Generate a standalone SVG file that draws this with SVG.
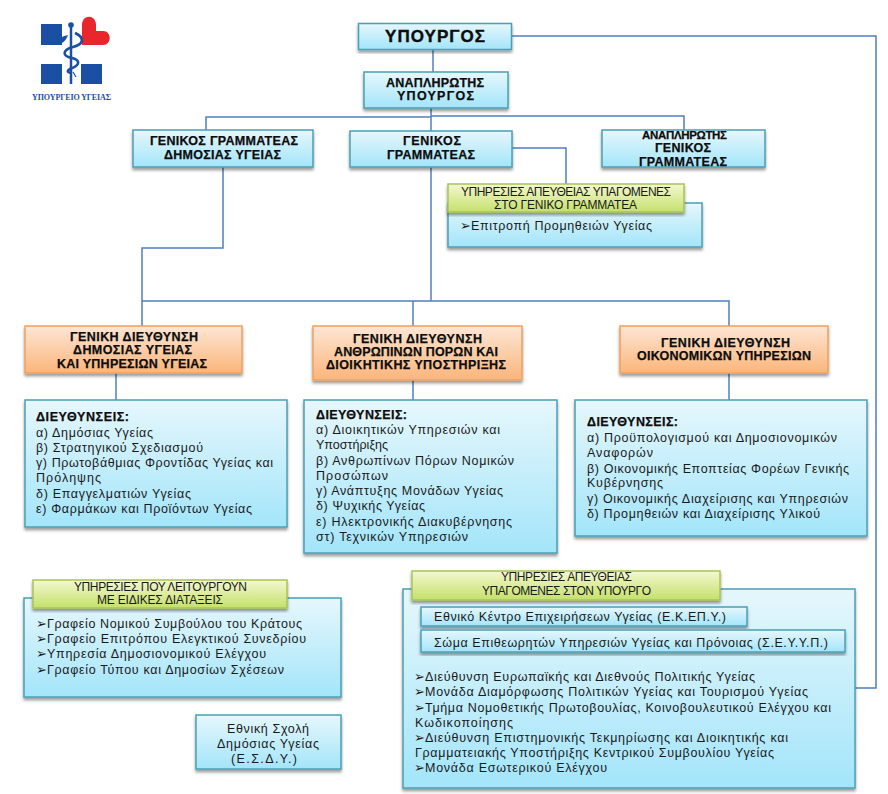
<svg xmlns="http://www.w3.org/2000/svg" width="888" height="794" viewBox="0 0 888 794">
<style>
text{font-family:"Liberation Sans","DejaVu Sans",sans-serif;fill:#1a1a1a;font-size:12.5px}
.b{font-weight:bold;font-size:12.5px;fill:#0d0d0d;stroke:#0d0d0d;stroke-width:.25}
.g{font-size:12px}
.bu{font-family:"DejaVu Sans",sans-serif;font-size:13px}
.blue{fill:url(#gb);stroke:#4aa0b5;stroke-width:1.5;filter:url(#sh)}
.or{fill:url(#go);stroke:#f0a060;stroke-width:1.5;filter:url(#sh)}
.gr{fill:url(#gg);stroke:#a9c454;stroke-width:1.5;filter:url(#sh)}
.c{fill:none;stroke:#4f7fc0;stroke-width:1.5}
</style>
<defs>
<linearGradient id="gb" x1="0" y1="0" x2="0" y2="1"><stop offset="0" stop-color="#e6f7fc"/><stop offset="1" stop-color="#a3e5fa"/></linearGradient>
<linearGradient id="go" x1="0" y1="0" x2="0" y2="1"><stop offset="0" stop-color="#fde6d5"/><stop offset="1" stop-color="#fbb57a"/></linearGradient>
<linearGradient id="gg" x1="0" y1="0" x2="0" y2="1"><stop offset="0" stop-color="#f3f8d0"/><stop offset="1" stop-color="#c5e06c"/></linearGradient>
<filter id="sh" x="-5%" y="-10%" width="110%" height="125%"><feDropShadow dx="0" dy="2.500" stdDeviation="1.500" flood-color="#000" flood-opacity="0.4"/></filter>
</defs>
<rect width="888" height="794" fill="#fff"/>
<g id="connectors">
<path class="c" d="M433 50V72"/>
<path class="c" d="M431 108V301"/>
<path class="c" d="M431 117H206V130"/>
<path class="c" d="M431 116H684V130"/>
<path class="c" d="M512 148H566V184"/>
<path class="c" d="M223 167V248H142V326"/>
<path class="c" d="M142 301H729V326"/>
<path class="c" d="M413 301V326"/>
<path class="c" d="M116 373V400"/>
<path class="c" d="M413 380V400"/>
<path class="c" d="M729 373V400"/>
<path class="c" d="M512 36H876V688H855"/>
</g>
<g id="logo">
<rect x="41" y="24" width="21" height="21" fill="#1a4fa3"/>
<rect x="41" y="64" width="21" height="20" fill="#1a4fa3"/>
<rect x="81" y="64" width="21" height="20" fill="#1a4fa3"/>
<path d="M82 45V25C82 14 96 14 96 25V31H103C112 31 112 45 103 45Z" fill="#e8262c"/>
<path d="M71 25V84" stroke="#1a4fa3" stroke-width="2.500" fill="none"/>
<circle cx="71" cy="25" r="2.800" fill="#1a4fa3"/>
<path d="M75 33C84 37 85 44 73 47C62 50 62 56 72 58C80 60 81 65 70 69C66 71 68 73 72 73" stroke="#1a4fa3" stroke-width="2.600" fill="none"/>
<path d="M58 44C58 38 63 36 68 35C66 41 62 44 58 44Z" fill="#1a4fa3"/>
<path d="M73 72L76 77" stroke="#1a4fa3" stroke-width="1.200"/>
<text x="32" y="100" textLength="79" style="font-family:'Liberation Serif',serif;font-size:8px;font-weight:bold;fill:#1a4fa3">ΥΠΟΥΡΓΕΙΟ ΥΓΕΙΑΣ</text>
</g>
<g id="minister"><rect class="blue" x="358.500" y="23.500" width="153" height="26"/><text class="b" x="385" y="42" textLength="100" style="font-size:17px;stroke-width:.4">ΥΠΟΥΡΓΟΣ</text></g>
<g id="deputy-minister"><rect class="blue" x="364" y="72" width="144" height="36"/><text class="b" x="386" y="87" textLength="98">ΑΝΑΠΛΗΡΩΤΗΣ</text><text class="b" x="397" y="100" textLength="77">ΥΠΟΥΡΓΟΣ</text></g>
<g id="sg-public-health"><rect class="blue" x="133" y="130" width="180" height="37"/><text class="b" x="150" y="145" textLength="148">ΓΕΝΙΚΟΣ ΓΡΑΜΜΑΤΕΑΣ</text><text class="b" x="164" y="159" textLength="117">ΔΗΜΟΣΙΑΣ ΥΓΕΙΑΣ</text></g>
<g id="sg"><rect class="blue" x="350" y="131" width="162" height="36"/><text class="b" x="403" y="145" textLength="58">ΓΕΝΙΚΟΣ</text><text class="b" x="387" y="159" textLength="88">ΓΡΑΜΜΑΤΕΑΣ</text></g>
<g id="deputy-sg"><rect class="blue" x="602" y="130" width="163" height="37"/><text class="b" x="642" y="139" textLength="85" style="font-size:11.5px">ΑΝΑΠΛΗΡΩΤΗΣ</text><text class="b" x="655" y="152" textLength="56">ΓΕΝΙΚΟΣ</text><text class="b" x="639" y="166" textLength="88">ΓΡΑΜΜΑΤΕΑΣ</text></g>
<g id="sg-services"><rect class="blue" x="448" y="203" width="254" height="44"/><rect class="gr" x="448" y="184" width="236" height="28"/><text class="g" x="461" y="196" textLength="210">ΥΠΗΡΕΣΙΕΣ ΑΠΕΥΘΕΙΑΣ ΥΠΑΓΟΜΕΝΕΣ</text><text class="g" x="494" y="209" textLength="143">ΣΤΟ ΓΕΝΙΚΟ ΓΡΑΜΜΑΤΕΑ</text><text x="460" y="230"><tspan class="bu">➢</tspan><tspan x="471" textLength="181">Επιτροπή Προμηθειών Υγείας</tspan></text></g>
<g id="gd-public-health"><rect class="or" x="25" y="326" width="217" height="47"/><text class="b" x="70" y="341" textLength="128">ΓΕΝΙΚΗ ΔΙΕΥΘΥΝΣΗ</text><text class="b" x="73" y="354" textLength="119">ΔΗΜΟΣΙΑΣ ΥΓΕΙΑΣ</text><text class="b" x="57" y="368" textLength="150">ΚΑΙ ΥΠΗΡΕΣΙΩΝ ΥΓΕΙΑΣ</text></g>
<g id="gd-hr"><rect class="or" x="313" y="326" width="209" height="54"/><text class="b" x="353" y="343" textLength="129">ΓΕΝΙΚΗ ΔΙΕΥΘΥΝΣΗ</text><text class="b" x="334" y="356" textLength="164">ΑΝΘΡΩΠΙΝΩΝ ΠΟΡΩΝ ΚΑΙ</text><text class="b" x="326" y="369" textLength="180">ΔΙΟΙΚΗΤΙΚΗΣ ΥΠΟΣΤΗΡΙΞΗΣ</text></g>
<g id="gd-finance"><rect class="or" x="620" y="326" width="208" height="47"/><text class="b" x="661" y="347" textLength="129">ΓΕΝΙΚΗ ΔΙΕΥΘΥΝΣΗ</text><text class="b" x="637" y="360" textLength="174">ΟΙΚΟΝΟΜΙΚΩΝ ΥΠΗΡΕΣΙΩΝ</text></g>
<g id="dir-public-health"><rect class="blue" x="25" y="400" width="262" height="127"/>
<text class="b" x="36" y="421" textLength="93">ΔΙΕΥΘΥΝΣΕΙΣ:</text>
<text x="36" y="437" textLength="117">α) Δημόσιας Υγείας</text>
<text x="36" y="452" textLength="167">β) Στρατηγικού Σχεδιασμού</text>
<text x="36" y="467" textLength="237">γ) Πρωτοβάθμιας Φροντίδας Υγείας και</text>
<text x="36" y="482" textLength="65">Πρόληψης</text>
<text x="36" y="498" textLength="155">δ) Επαγγελματιών Υγείας</text>
<text x="36" y="513" textLength="216">ε) Φαρμάκων και Προϊόντων Υγείας</text></g>
<g id="dir-hr"><rect class="blue" x="304" y="400" width="253" height="153"/>
<text class="b" x="316" y="419" textLength="91">ΔΙΕΥΘΥΝΣΕΙΣ:</text>
<text x="316" y="434" textLength="184">α) Διοικητικών Υπηρεσιών και</text>
<text x="316" y="449" textLength="72">Υποστήριξης</text>
<text x="316" y="465" textLength="198">β) Ανθρωπίνων Πόρων Νομικών</text>
<text x="316" y="480" textLength="72">Προσώπων</text>
<text x="316" y="495" textLength="187">γ) Ανάπτυξης Μονάδων Υγείας</text>
<text x="316" y="510" textLength="109">δ) Ψυχικής Υγείας</text>
<text x="316" y="526" textLength="196">ε) Ηλεκτρονικής Διακυβέρνησης</text>
<text x="316" y="541" textLength="152">στ) Τεχνικών Υπηρεσιών</text></g>
<g id="dir-finance"><rect class="blue" x="575" y="400" width="292" height="136"/>
<text class="b" x="587" y="426" textLength="91">ΔΙΕΥΘΥΝΣΕΙΣ:</text>
<text x="587" y="442" textLength="250">α) Προϋπολογισμού και Δημοσιονομικών</text>
<text x="587" y="457" textLength="66">Αναφορών</text>
<text x="587" y="473" textLength="262">β) Οικονομικής Εποπτείας Φορέων Γενικής</text>
<text x="587" y="487" textLength="76">Κυβέρνησης</text>
<text x="587" y="503" textLength="261">γ) Οικονομικής Διαχείρισης και Υπηρεσιών</text>
<text x="587" y="518" textLength="233">δ) Προμηθειών και Διαχείρισης Υλικού</text></g>
<g id="special-services"><rect class="blue" x="24" y="598" width="317" height="99"/><rect class="gr" x="33" y="580" width="254" height="28"/>
<text class="g" x="74" y="591" textLength="173">ΥΠΗΡΕΣΙΕΣ ΠΟΥ ΛΕΙΤΟΥΡΓΟΥΝ</text><text class="g" x="97" y="604" textLength="126">ΜΕ ΕΙΔΙΚΕΣ ΔΙΑΤΑΞΕΙΣ</text>
<text x="36" y="628"><tspan class="bu">➢</tspan><tspan x="47" textLength="255">Γραφείο Νομικού Συμβούλου του Κράτους</tspan></text>
<text x="36" y="643"><tspan class="bu">➢</tspan><tspan x="47" textLength="259">Γραφείο Επιτρόπου Ελεγκτικού Συνεδρίου</tspan></text>
<text x="36" y="658"><tspan class="bu">➢</tspan><tspan x="47" textLength="219">Υπηρεσία Δημοσιονομικού Ελέγχου</tspan></text>
<text x="36" y="674"><tspan class="bu">➢</tspan><tspan x="47" textLength="237">Γραφείο Τύπου και Δημοσίων Σχέσεων</tspan></text></g>
<g id="esdy"><rect class="blue" x="196" y="715" width="145" height="54"/><text x="227" y="733" textLength="82">Εθνική Σχολή</text><text x="217" y="748" textLength="102">Δημόσιας Υγείας</text><text x="231" y="763" textLength="66">(Ε.Σ.Δ.Υ.)</text></g>
<g id="minister-services"><rect class="blue" x="403" y="589" width="452" height="199"/><rect class="gr" x="412" y="571" width="308" height="29"/>
<text class="g" x="501" y="581" textLength="131">ΥΠΗΡΕΣΙΕΣ ΑΠΕΥΘΕΙΑΣ</text><text class="g" x="482" y="595" textLength="169">ΥΠΑΓΟΜΕΝΕΣ ΣΤΟΝ ΥΠΟΥΡΓΟ</text>
<rect class="blue" x="421" y="607" width="326" height="19"/><text x="434" y="621" textLength="292">Εθνικό Κέντρο Επιχειρήσεων Υγείας (Ε.Κ.ΕΠ.Υ.)</text>
<rect class="blue" x="421" y="630" width="424" height="22"/><text x="434" y="647" textLength="394">Σώμα Επιθεωρητών Υπηρεσιών Υγείας και Πρόνοιας (Σ.Ε.Υ.Υ.Π.)</text>
<text x="414" y="681"><tspan class="bu">➢</tspan><tspan x="425" textLength="330">Διεύθυνση Ευρωπαϊκής και Διεθνούς Πολιτικής Υγείας</tspan></text>
<text x="414" y="696"><tspan class="bu">➢</tspan><tspan x="425" textLength="383">Μονάδα Διαμόρφωσης Πολιτικών Υγείας και Τουρισμού Υγείας</tspan></text>
<text x="414" y="712"><tspan class="bu">➢</tspan><tspan x="425" textLength="406">Τμήμα Νομοθετικής Πρωτοβουλίας, Κοινοβουλευτικού Ελέγχου και</tspan></text>
<text x="415" y="727" textLength="98">Κωδικοποίησης</text>
<text x="414" y="742"><tspan class="bu">➢</tspan><tspan x="425" textLength="363">Διεύθυνση Επιστημονικής Τεκμηρίωσης και Διοικητικής και</tspan></text>
<text x="415" y="757" textLength="359">Γραμματειακής Υποστήριξης Κεντρικού Συμβουλίου Υγείας</text>
<text x="414" y="772"><tspan class="bu">➢</tspan><tspan x="425" textLength="182">Μονάδα Εσωτερικού Ελέγχου</tspan></text></g>
</svg>
